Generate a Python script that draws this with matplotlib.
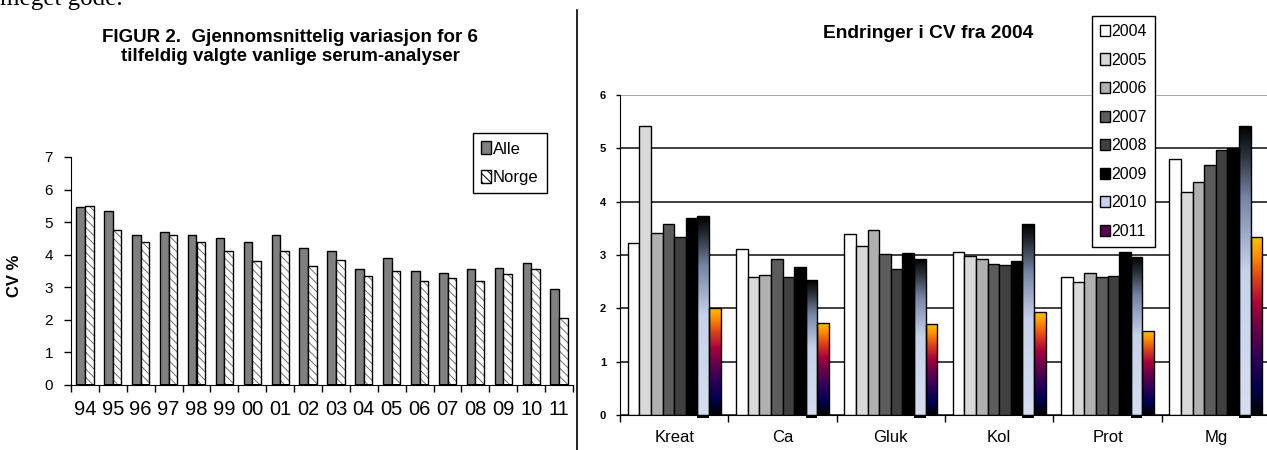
import matplotlib
matplotlib.use('Agg')
import matplotlib.pyplot as plt
import numpy as np
from matplotlib.colors import LinearSegmentedColormap
from matplotlib.patches import Patch
from matplotlib.lines import Line2D

plt.rcParams['font.family'] = ['Liberation Sans', 'DejaVu Sans']
plt.rcParams['hatch.linewidth'] = 0.7

# Data - left chart (CV % per year)
years_short = ['94', '95', '96', '97', '98', '99', '00', '01', '02',
               '03', '04', '05', '06', '07', '08', '09', '10', '11']
alle = [5.45, 5.35, 4.6, 4.7, 4.6, 4.5, 4.4, 4.6, 4.2,
        4.1, 3.55, 3.9, 3.5, 3.45, 3.55, 3.6, 3.75, 2.95]
norge = [5.5, 4.75, 4.4, 4.6, 4.4, 4.1, 3.8, 4.1, 3.65,
         3.85, 3.35, 3.5, 3.2, 3.3, 3.2, 3.4, 3.55, 2.07]

# Data - right chart (CV per analysis and year)
analyses = ['Kreat', 'Ca', 'Gluk', 'Kol', 'Prot', 'Mg']
cv_years = ['2004', '2005', '2006', '2007', '2008', '2009', '2010', '2011']
cv_2004 = [3.23, 3.11, 3.39, 3.05, 2.59, 4.80]
cv_2005 = [5.42, 2.58, 3.17, 2.98, 2.49, 4.18]
cv_2006 = [3.41, 2.63, 3.47, 2.92, 2.66, 4.37]
cv_2007 = [3.59, 2.92, 3.02, 2.84, 2.59, 4.68]
cv_2008 = [3.33, 2.58, 2.74, 2.81, 2.61, 4.97]
cv_2009 = [3.70, 2.78, 3.03, 2.88, 3.05, 5.00]
cv_2010 = [3.73, 2.53, 2.93, 3.58, 2.97, 5.42]
cv_2011 = [2.01, 1.73, 1.70, 1.93, 1.58, 3.33]
cv_series = [cv_2004, cv_2005, cv_2006, cv_2007, cv_2008, cv_2009, cv_2010, cv_2011]

year_colors = ['#FFFFFF', '#D9D9D9', '#B0B0B0', '#5C5C5C', '#404040', '#000000', None, None]

# gradients used by Excel for 2010 and 2011
cmap_2010 = LinearSegmentedColormap.from_list('c2010', [
    (0.0, '#D6DEF0'), (0.5, '#C6D2EA'), (0.75, '#7585A5'),
    (0.9, '#2A3038'), (1.0, '#000000')])
cmap_2011 = LinearSegmentedColormap.from_list('c2011', [
    (0.0, '#000000'), (0.15, '#000050'), (0.32, '#300058'),
    (0.5, '#700048'), (0.62, '#A8003C'), (0.78, '#E04818'),
    (0.9, '#FF9000'), (1.0, '#FFC400')])

W, H = 1267, 450
fig = plt.figure(figsize=(W / 100, H / 100), dpi=100)


def gradient_bars(ax, bars, cmap):
    grad = np.linspace(0, 1, 256).reshape(-1, 1)
    for rect in bars:
        x, y = rect.get_xy()
        w, h = rect.get_width(), rect.get_height()
        im = ax.imshow(grad, extent=[x, x + w, y, y + h], origin='lower',
                       aspect='auto', cmap=cmap, zorder=1.5)
        im.set_clip_path(rect)
        rect.set_facecolor('none')
        rect.set_zorder(2)


# ---------------- left chart ----------------
ax1 = fig.add_axes([71 / W, 1 - 385 / H, (573 - 71) / W, (385 - 157) / H])
x1 = np.arange(len(years_short))
bw1 = 0.31
ax1.bar(x1 - bw1 / 2, alle, bw1, color='#808080', edgecolor='black', linewidth=1)
ax1.bar(x1 + bw1 / 2, norge, bw1, color='white', edgecolor='#707070',
        hatch='\\\\\\\\', linewidth=0)
ax1.bar(x1 + bw1 / 2, norge, bw1, color='none', edgecolor='black', linewidth=1)
# dark base under each pair
ax1.bar(x1, 0.09, 2 * bw1, bottom=-0.045, color='black', clip_on=False, zorder=3)

ax1.set_xlim(-0.5, len(years_short) - 0.5)
ax1.set_ylim(0, 7)
ax1.set_yticks(range(0, 8))
ax1.set_xticks(x1)
ax1.set_xticklabels(years_short)
ax1.set_xticks(np.arange(-0.5, len(years_short)), minor=True)
ax1.tick_params(axis='x', which='major', length=0, labelsize=14.5, pad=11)
ax1.tick_params(axis='x', which='minor', length=5, width=1)
ax1.tick_params(axis='y', length=5, width=1, labelsize=11, pad=8)
for s in ['top', 'right']:
    ax1.spines[s].set_visible(False)
ax1.set_ylabel('CV %', fontsize=12, fontweight='bold')
ax1.yaxis.set_label_coords(-0.098, 0.48)

fig.legend(handles=[Patch(facecolor='#808080', edgecolor='black', label='Alle'),
                    Patch(facecolor='white', edgecolor='black', hatch='\\\\\\\\', label='Norge')],
           loc='upper left', bbox_to_anchor=(473 / W, 1 - 133 / H), fontsize=12,
           handlelength=0.6, handleheight=0.8, handletextpad=0.1, labelspacing=0.8,
           borderpad=0.5, borderaxespad=0, fancybox=False, framealpha=1,
           edgecolor='black')

fig.text(290 / W, 1 - 47 / H,
         'FIGUR 2.  Gjennomsnittelig variasjon for 6\ntilfeldig valgte vanlige serum-analyser',
         ha='center', va='center', fontsize=13.5, fontweight='bold', linespacing=1.22)

# ---------------- right chart ----------------
ax2 = fig.add_axes([620 / W, 1 - 415 / H, 650 / W, 320 / H])
x2 = np.arange(len(analyses))
bw2 = 0.107
containers = []
for i, vals in enumerate(cv_series):
    off = (i - 3.5) * bw2
    fc = year_colors[i] if year_colors[i] is not None else 'white'
    containers.append(ax2.bar(x2 + off, vals, bw2, color=fc,
                              edgecolor='black', linewidth=1, zorder=2))
gradient_bars(ax2, containers[6], cmap_2010)
gradient_bars(ax2, containers[7], cmap_2011)
ax2.bar(x2 + 2.5 * bw2, 0.05, bw2, bottom=-0.05, color='black', clip_on=False, zorder=3)

ax2.set_xlim(-0.5, len(analyses) - 0.5)
ax2.set_ylim(0, 6)
ax2.set_yticks(range(0, 7))
ax2.set_axisbelow(True)
ax2.yaxis.grid(True, color='#303030', linewidth=1.3)
ax2.yaxis.get_gridlines()[-1].set_color('#A0A0A0')
ax2.set_xticks(x2)
ax2.set_xticklabels(analyses)
ax2.set_xticks(np.arange(-0.5, len(analyses)), minor=True)
ax2.tick_params(axis='x', which='major', length=0, labelsize=12, pad=11)
ax2.tick_params(axis='x', which='minor', length=5, width=1)
ax2.tick_params(axis='y', length=3, width=1, labelsize=8, pad=7)
for lab in ax2.get_yticklabels():
    lab.set_fontweight('bold')
for s in ['top', 'right']:
    ax2.spines[s].set_visible(False)

leg_handles = []
for i, yr in enumerate(cv_years):
    if i == 6:
        fc = '#C6D2EA'
    elif i == 7:
        fc = '#5A0050'
    else:
        fc = year_colors[i]
    leg_handles.append(Patch(facecolor=fc, edgecolor='black', label=yr))
fig.legend(handles=leg_handles, loc='upper left', bbox_to_anchor=(1092 / W, 1 - 16 / H),
           fontsize=11.5, handlelength=0.6, handleheight=0.7, handletextpad=0.1,
           labelspacing=0.85, borderpad=0.5, borderaxespad=0, fancybox=False,
           framealpha=1, edgecolor='black')

fig.text(928 / W, 1 - 33 / H, 'Endringer i CV fra 2004', ha='center', va='center',
         fontsize=13.8, fontweight='bold')

# separator and cut-off text from the page
fig.add_artist(Line2D([577 / W, 577 / W], [0, 1 - 10 / H], color='black', linewidth=1.2))
fig.text(0.0, 1 - 5 / H, 'meget gode.', family='Liberation Serif', fontsize=18,
         va='baseline', ha='left')

fig.savefig('out.png', dpi=100)
